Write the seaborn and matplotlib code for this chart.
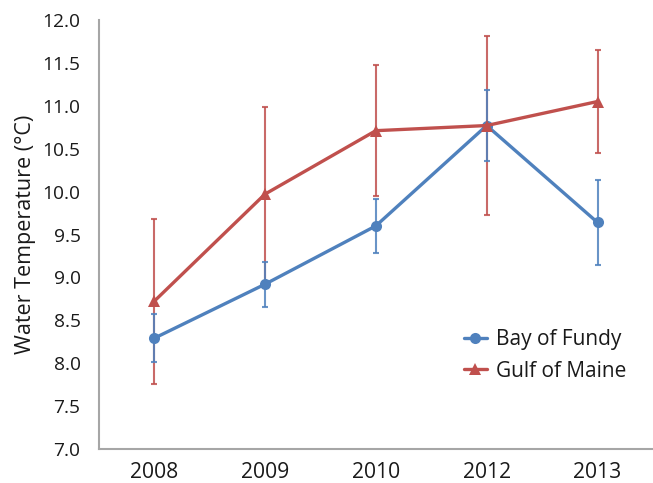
import pandas as pd
import numpy as np
import matplotlib
matplotlib.use("Agg")
import matplotlib.pyplot as plt
import seaborn as sns

# data
years = ["2008", "2009", "2010", "2012", "2013"]
bay_fundy = [8.29, 8.92, 9.60, 10.77, 9.64]
bay_fundy_err = [0.28, 0.26, 0.31, 0.41, 0.49]
gulf_maine = [8.72, 9.97, 10.71, 10.77, 11.05]
gulf_maine_err = [0.96, 1.02, 0.76, 1.04, 0.60]

sns.set_theme(style="white")
plt.rcParams['font.family'] = ['Open Sans', 'DejaVu Sans']

blue = "#4f81bd"
red = "#c0504d"
gray = "#a6a6a6"
ink = "#1a1a1a"

pos = np.arange(len(years))
df = pd.DataFrame({
    "pos": np.concatenate([pos, pos]),
    "temp": bay_fundy + gulf_maine,
    "site": ["Bay of Fundy"] * len(years) + ["Gulf of Maine"] * len(years),
})

fig = plt.figure(figsize=(6.53, 4.83), dpi=100)
ax = fig.add_axes([98.6 / 653, 34 / 483, 1 - 98.6 / 653, 429 / 483])

# error bars first, lines on top
ax.errorbar(pos, gulf_maine, yerr=gulf_maine_err, fmt="none", ecolor=red,
            elinewidth=1.5, capsize=2.2, capthick=1.5, alpha=0.85, zorder=1)
ax.errorbar(pos, bay_fundy, yerr=bay_fundy_err, fmt="none", ecolor=blue,
            elinewidth=1.5, capsize=2.2, capthick=1.5, alpha=0.85, zorder=1)

sns.lineplot(data=df, x="pos", y="temp", hue="site", style="site",
             palette={"Bay of Fundy": blue, "Gulf of Maine": red},
             markers={"Bay of Fundy": "o", "Gulf of Maine": "^"},
             dashes=False, linewidth=2.4, markersize=8, markeredgewidth=0,
             ax=ax, zorder=3)

ax.set_xlim(-0.5, 4.5 - (662.4 - 653) / 112.75)
ax.set_ylim(7.0, 12.0)
yt = np.arange(7.0, 12.01, 0.5)
ax.set_yticks(yt)
ax.set_yticklabels([f"{v:.1f}" for v in yt])

# ticks at category boundaries, labels at centres
ax.set_xticks(np.arange(-0.5, 4.6, 1.0))
ax.set_xticklabels([])
ax.set_xticks(pos, minor=True)
ax.set_xticklabels(years, minor=True)
ax.tick_params(axis="x", which="major", length=5, width=1.3, color=gray, direction="out")
ax.tick_params(axis="x", which="minor", length=0, pad=9, labelsize=15.2, labelcolor=ink)
ax.tick_params(axis="y", length=5, width=1.3, color=gray, direction="out",
               labelsize=13.8, labelcolor=ink, pad=8)

for side in ["top", "right"]:
    ax.spines[side].set_visible(False)
for side in ["left", "bottom"]:
    ax.spines[side].set_color(gray)
    ax.spines[side].set_linewidth(1.5)

ax.set_xlabel("")
ax.set_ylabel("Water Temperature (°C)", fontsize=15.5, color=ink, labelpad=5)

leg = ax.legend(loc="center left", bbox_to_anchor=((464 - 98.6) / 554.4, (449 - 355.5) / 429),
                frameon=False, fontsize=15, handlelength=1.1, handletextpad=0.45,
                labelspacing=0.5, borderpad=0, borderaxespad=0)
for t in leg.get_texts():
    t.set_color(ink)

plt.savefig("out.png", dpi=100)
plt.close()
